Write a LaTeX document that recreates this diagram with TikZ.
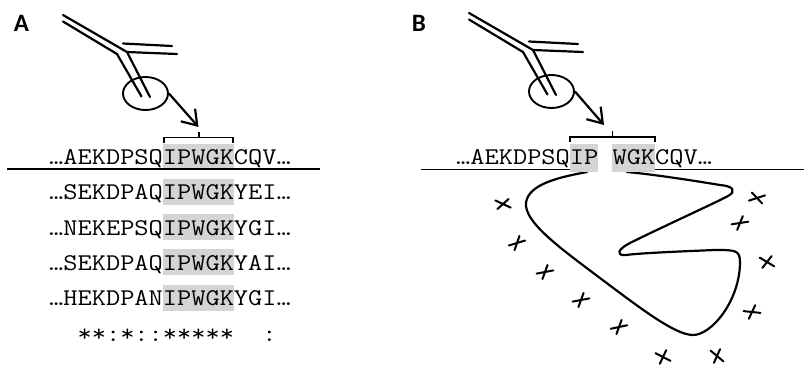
\documentclass[tikz,border=0pt]{standalone}
\usepackage{fontspec}
\usepackage{graphicx}
\usetikzlibrary{shapes.geometric,arrows.meta}
\newfontfamily\panelfont{Carlito}
% sequence text: typewriter, slightly compressed vertically
\newcommand\seqtext[1]{\scalebox{1}[0.87]{#1}}

\begin{document}
\begin{tikzpicture}[x=1pt,y=-1pt,
  tool/.style={line width=2.2pt, line cap=round, line join=round},
  lens/.style={draw, ellipse, line width=1.9pt, minimum width=45pt, minimum height=33pt, inner sep=0pt},
  pointer/.style={line width=2.2pt, -{Straight Barb[length=14pt,width=19pt,line width=2.2pt]}},
  brace/.style={line width=1.9pt},
  rule/.style={line width=1.9pt},
  seq/.style={font=\ttfamily\fontsize{27.6}{30}\selectfont, inner sep=0pt, anchor=base west},
  hl/.style={fill=black!17, draw=none},
  panel/.style={font=\panelfont\bfseries\fontsize{25}{28}\selectfont, inner sep=0pt},
  chain/.style={line width=2.2pt, line cap=round, line join=round},
  xstroke/.style={line width=2pt, line cap=round},
  pics/xmark/.style 2 args={code={
    \draw[xstroke] (#1:8.5) -- (#1+180:8.5);
    \draw[xstroke] (#2:7.5) -- (#2+180:7.5);}}
]
\useasboundingbox (0,0) rectangle (804,365);

% ---------------- panel A ----------------
\node[panel] (labA) at (21.5,23.5) {A};

% tweezers
\draw[tool] (63,15) -- (127,52) -- (177,54);
\draw[tool] (127,52) -- (150,97);
\draw[tool] (63,21.5) -- (117,54) -- (141.5,96.5);
\draw[tool] (123,43.5) -- (172,46);
\node[lens] (lensA) at (145.5,93.5) {};
\coordinate (tipA) at (198.5,127);
\draw[pointer] (lensA.east) -- (tipA);

% bracket over the motif
\draw[brace] (164,142.5) -- (164,137.5) -- (233,137.5) -- (233,142.5);
\draw[brace] (199,137.5) -- (199,132);

% highlighted motif columns
\foreach \b in {164.5,199.8,235.1,270.4,305.7}
  \fill[hl] (162.6,\b-21) rectangle (233.6,\b+5);

\node[seq] (a1) at (49,164.5) {\seqtext{…AEKDPSQIPWGKCQV…}};
\draw[rule] (7,169) -- (320,169);
\node[seq] (a2) at (49,199.8) {\seqtext{…SEKDPAQIPWGKYEI…}};
\node[seq] (a3) at (49,235.1) {\seqtext{…NEKEPSQIPWGKYGI…}};
\node[seq] (a4) at (49,270.4) {\seqtext{…SEKDPAQIPWGKYAI…}};
\node[seq] (a5) at (49,305.7) {\seqtext{…HEKDPANIPWGKYGI…}};
\node[seq] (cons) at (49,341) {\seqtext{\hphantom{**}**:*::*****\hphantom{**}:}};

% ---------------- panel B ----------------
\node[panel] (labB) at (419,23) {B};

\begin{scope}[shift={(406,-2)}]
  \draw[tool] (63,15) -- (127,52) -- (177,54);
  \draw[tool] (127,52) -- (150,97);
  \draw[tool] (63,21.5) -- (117,54) -- (141.5,96.5);
  \draw[tool] (123,43.5) -- (172,46);
  \node[lens] (lensB) at (145.5,93.5) {};
  \coordinate (tipB) at (198,127);
  \draw[pointer] (lensB.east) -- (tipB);
\end{scope}

\draw[brace] (570,142) -- (570,137) -- (655,137) -- (655,142);
\draw[brace] (612.5,137) -- (612.5,131);

\draw[rule] (421,169.5) -- (804,169.5);

% unfolded chain below the surface
\draw[chain] (587,172)
  .. controls (560,177) and (528,184) .. (526,203)
  .. controls (524,222) and (560,248) .. (600,278)
  .. controls (640,308) and (675,335) .. (693,335)
  .. controls (712,335) and (740,300) .. (740,262)
  .. controls (740,250) and (735,250) .. (715,250)
  .. controls (690,251) and (640,253) .. (626,255)
  .. controls (615,256) and (618,249) .. (630,243)
  .. controls (660,228) and (715,203) .. (728,196)
  .. controls (737,191) and (733,186) .. (720,185)
  .. controls (690,180) and (650,174) .. (627,172);

\fill[hl] (569.6,144) rectangle (598,172);
\fill[white] (598,144) rectangle (612.2,172);
\fill[hl] (612.2,144) rectangle (655,172);
\node[seq] (b1) at (456,164.5) {\seqtext{…AEKDPSQIP\hphantom{W}WGKCQV…}};

% crossed-out positions
\pic at (503,204) {xmark={25}{-42}};
\pic at (517,243) {xmark={-17}{-71}};
\pic at (545,272) {xmark={-11}{-70}};
\pic at (581,300) {xmark={-11}{-70}};
\pic at (619,327) {xmark={-12}{-70}};
\pic at (663,357) {xmark={27}{-65}};
\pic at (717,356) {xmark={40}{-66}};
\pic at (757,198) {xmark={-18}{47}};
\pic at (740,223) {xmark={-9}{-68}};
\pic at (767,262) {xmark={31}{-52}};
\pic at (752,312) {xmark={6}{-65}};
\end{tikzpicture}
\end{document}
